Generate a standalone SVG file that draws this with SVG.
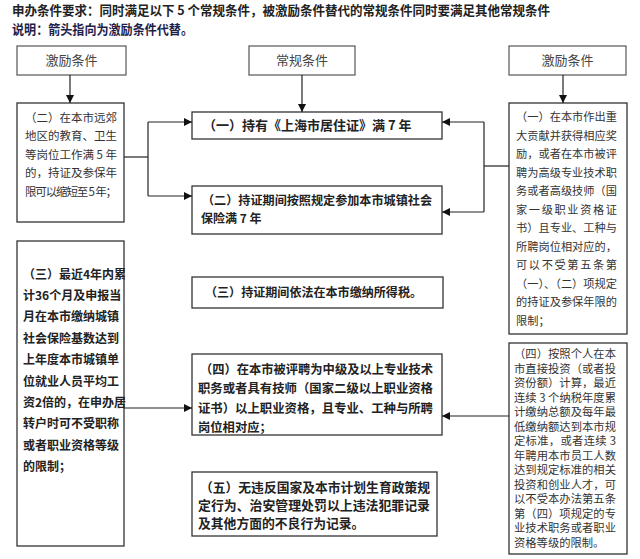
<svg xmlns="http://www.w3.org/2000/svg" width="640" height="559" viewBox="0 0 640 559">
<defs>
<marker id="ah" viewBox="0 0 8 8" refX="8" refY="4" markerWidth="8" markerHeight="8" markerUnits="userSpaceOnUse" orient="auto">
<path d="M0,0 L8,4 L0,8 z" fill="#111"/>
</marker>
<style>
text{font-family:"Noto Sans CJK SC","Liberation Sans",sans-serif;fill:#222}
.hd{font-size:12.8px;font-weight:bold}
.lab{font-size:13px;fill:#444;text-anchor:middle}
.box{fill:#fff;stroke:#333;stroke-width:1.3}
.tbox{fill:#fff;stroke:#555;stroke-width:1.2}
.side{font-size:11.3px;fill:#333}
.sideb{font-size:12px;font-weight:bold;fill:#222}
.mid{font-size:12.3px;font-weight:bold;fill:#222}
.con{fill:none;stroke:#222;stroke-width:1.2}
</style>
</defs>
<rect width="640" height="559" fill="#fff"/>

<g id="header">
<text class="hd" x="12" y="15" textLength="538" lengthAdjust="spacingAndGlyphs">申办条件要求：同时满足以下 5 个常规条件，被激励条件替代的常规条件同时要满足其他常规条件</text>
<text class="hd" x="12" y="34" style="fill:#1e1e4a" textLength="181" lengthAdjust="spacingAndGlyphs">说明：箭头指向为激励条件代替。</text>
</g>

<g id="top-left">
<rect class="tbox" x="17" y="46" width="109" height="29"/>
<text class="lab" x="71.5" y="65">激励条件</text>
</g>
<g id="top-mid">
<rect class="tbox" x="249" y="46" width="106" height="29"/>
<text class="lab" x="302" y="65">常规条件</text>
</g>
<g id="top-right">
<rect class="tbox" x="509" y="46" width="117" height="29"/>
<text class="lab" x="567.5" y="65">激励条件</text>
</g>

<g id="left1">
<rect class="box" x="17" y="103" width="107" height="119"/>
<text class="side" style="font-size:11.5px">
<tspan x="25" y="121.5" textLength="92" lengthAdjust="spacing">（二）在本市远郊</tspan>
<tspan x="25" y="140" textLength="92" lengthAdjust="spacing">地区的教育、卫生</tspan>
<tspan x="25" y="158.5" textLength="92" lengthAdjust="spacing">等岗位工作满 5 年</tspan>
<tspan x="25" y="177" textLength="92" lengthAdjust="spacing">的，持证及参保年</tspan>
<tspan x="25" y="195.5" textLength="92" lengthAdjust="spacing">限可以缩短至 5 年；</tspan>
</text>
</g>

<g id="left2">
<rect class="box" x="17" y="241" width="107" height="305"/>
<text class="sideb">
<tspan x="23" y="278.6">（三）最近4年内累</tspan>
<tspan x="23" y="300">计36个月及申报当</tspan>
<tspan x="23" y="321.4">月在本市缴纳城镇</tspan>
<tspan x="23" y="342.8">社会保险基数达到</tspan>
<tspan x="23" y="364.2">上年度本市城镇单</tspan>
<tspan x="23" y="385.6">位就业人员平均工</tspan>
<tspan x="23" y="407">资2倍的，在申办居</tspan>
<tspan x="23" y="428.4">转户时可不受职称</tspan>
<tspan x="23" y="449.8">或者职业资格等级</tspan>
<tspan x="23" y="471.2">的限制；</tspan>
</text>
</g>

<g id="mid1">
<rect class="box" x="192" y="112" width="250" height="27"/>
<text class="mid" style="font-size:13px" x="203" y="130">（一）持有《上海市居住证》满 7 年</text>
</g>
<g id="mid2">
<rect class="box" x="192" y="186" width="250" height="48"/>
<text class="mid" style="font-size:12px">
<tspan x="202" y="205" textLength="230" lengthAdjust="spacingAndGlyphs">（二）持证期间按照规定参加本市城镇社会</tspan>
<tspan x="201" y="223">保险满 7 年</tspan>
</text>
</g>
<g id="mid3">
<rect class="box" x="192" y="277" width="251" height="31"/>
<text class="mid" style="font-size:12px" x="205" y="296.6" textLength="217" lengthAdjust="spacingAndGlyphs">（三）持证期间依法在本市缴纳所得税。</text>
</g>
<g id="mid4">
<rect class="box" x="192" y="354" width="250" height="81"/>
<text class="mid">
<tspan x="200" y="374" textLength="233" lengthAdjust="spacingAndGlyphs">（四）在本市被评聘为中级及以上专业技术</tspan>
<tspan x="198" y="393.3" textLength="235" lengthAdjust="spacingAndGlyphs">职务或者具有技师（国家二级以上职业资格</tspan>
<tspan x="198" y="412.6" textLength="235" lengthAdjust="spacingAndGlyphs">证书）以上职业资格，且专业、工种与所聘</tspan>
<tspan x="198" y="431.9">岗位相对应；</tspan>
</text>
</g>
<g id="mid5">
<rect class="box" x="192" y="472" width="245" height="64"/>
<text class="mid" style="font-size:12.8px">
<tspan x="200" y="491.6" textLength="230" lengthAdjust="spacingAndGlyphs">（五）无违反国家及本市计划生育政策规</tspan>
<tspan x="198" y="509.6" textLength="232" lengthAdjust="spacingAndGlyphs">定行为、治安管理处罚以上违法犯罪记录</tspan>
<tspan x="198" y="527.6">及其他方面的不良行为记录。</tspan>
</text>
</g>

<g id="right1">
<rect class="box" x="509" y="103" width="118" height="231"/>
<text class="side" style="font-size:11.2px">
<tspan x="516" y="121" textLength="101" lengthAdjust="spacing">（一）在本市作出重</tspan>
<tspan x="516" y="139.5" textLength="101" lengthAdjust="spacing">大贡献并获得相应奖</tspan>
<tspan x="516" y="158" textLength="101" lengthAdjust="spacing">励，或者在本市被评</tspan>
<tspan x="516" y="176.5" textLength="101" lengthAdjust="spacing">聘为高级专业技术职</tspan>
<tspan x="516" y="195" textLength="101" lengthAdjust="spacing">务或者高级技师（国</tspan>
<tspan x="516" y="213.5" textLength="101" lengthAdjust="spacing">家一级职业资格证</tspan>
<tspan x="516" y="232" textLength="101" lengthAdjust="spacing">书）且专业、工种与</tspan>
<tspan x="516" y="250.5" textLength="101" lengthAdjust="spacing">所聘岗位相对应的，</tspan>
<tspan x="516" y="269" textLength="101" lengthAdjust="spacing">可以不受第五条第</tspan>
<tspan x="516" y="287.5" textLength="101" lengthAdjust="spacingAndGlyphs">（一）、（二）项规定</tspan>
<tspan x="516" y="306" textLength="101" lengthAdjust="spacing">的持证及参保年限的</tspan>
<tspan x="516" y="324.5">限制；</tspan>
</text>
</g>

<g id="right2">
<rect class="box" x="509" y="343" width="118" height="211"/>
<text class="side">
<tspan x="514" y="358.3" textLength="102" lengthAdjust="spacing">（四）按照个人在本</tspan>
<tspan x="514" y="372.8" textLength="102" lengthAdjust="spacing">市直接投资（或者投</tspan>
<tspan x="514" y="387.3" textLength="102" lengthAdjust="spacing">资份额）计算，最近</tspan>
<tspan x="514" y="401.8" textLength="102" lengthAdjust="spacing">连续 3 个纳税年度累</tspan>
<tspan x="514" y="416.3" textLength="102" lengthAdjust="spacing">计缴纳总额及每年最</tspan>
<tspan x="514" y="430.8" textLength="102" lengthAdjust="spacing">低缴纳额达到本市规</tspan>
<tspan x="514" y="445.3" textLength="102" lengthAdjust="spacing">定标准，或者连续 3</tspan>
<tspan x="514" y="459.8" textLength="102" lengthAdjust="spacing">年聘用本市员工人数</tspan>
<tspan x="514" y="474.3" textLength="102" lengthAdjust="spacing">达到规定标准的相关</tspan>
<tspan x="514" y="488.8" textLength="102" lengthAdjust="spacing">投资和创业人才，可</tspan>
<tspan x="514" y="503.3" textLength="102" lengthAdjust="spacing">以不受本办法第五条</tspan>
<tspan x="514" y="517.8" textLength="102" lengthAdjust="spacing">第（四）项规定的专</tspan>
<tspan x="514" y="532.3" textLength="102" lengthAdjust="spacing">业技术职务或者职业</tspan>
<tspan x="514" y="546.8">资格等级的限制。</tspan>
</text>
</g>

<g id="connectors">
<line class="con" x1="70" y1="75" x2="70" y2="103" marker-end="url(#ah)"/>
<line class="con" x1="302" y1="75" x2="302" y2="112" marker-end="url(#ah)"/>
<line class="con" x1="563" y1="75" x2="563" y2="103" marker-end="url(#ah)"/>
<polyline class="con" points="124,157 148,157"/>
<line class="con" x1="148" y1="122" x2="148" y2="196"/>
<line class="con" x1="148" y1="122" x2="192" y2="122" marker-end="url(#ah)"/>
<line class="con" x1="148" y1="196" x2="192" y2="196" marker-end="url(#ah)"/>
<line class="con" x1="124" y1="408" x2="192" y2="408" marker-end="url(#ah)"/>
<polyline class="con" points="509,166 484,166"/>
<line class="con" x1="484" y1="122" x2="484" y2="212"/>
<line class="con" x1="484" y1="122" x2="442" y2="122" marker-end="url(#ah)"/>
<line class="con" x1="484" y1="212" x2="442" y2="212" marker-end="url(#ah)"/>
<line class="con" x1="509" y1="416" x2="442" y2="416" marker-end="url(#ah)"/>
</g>
</svg>
